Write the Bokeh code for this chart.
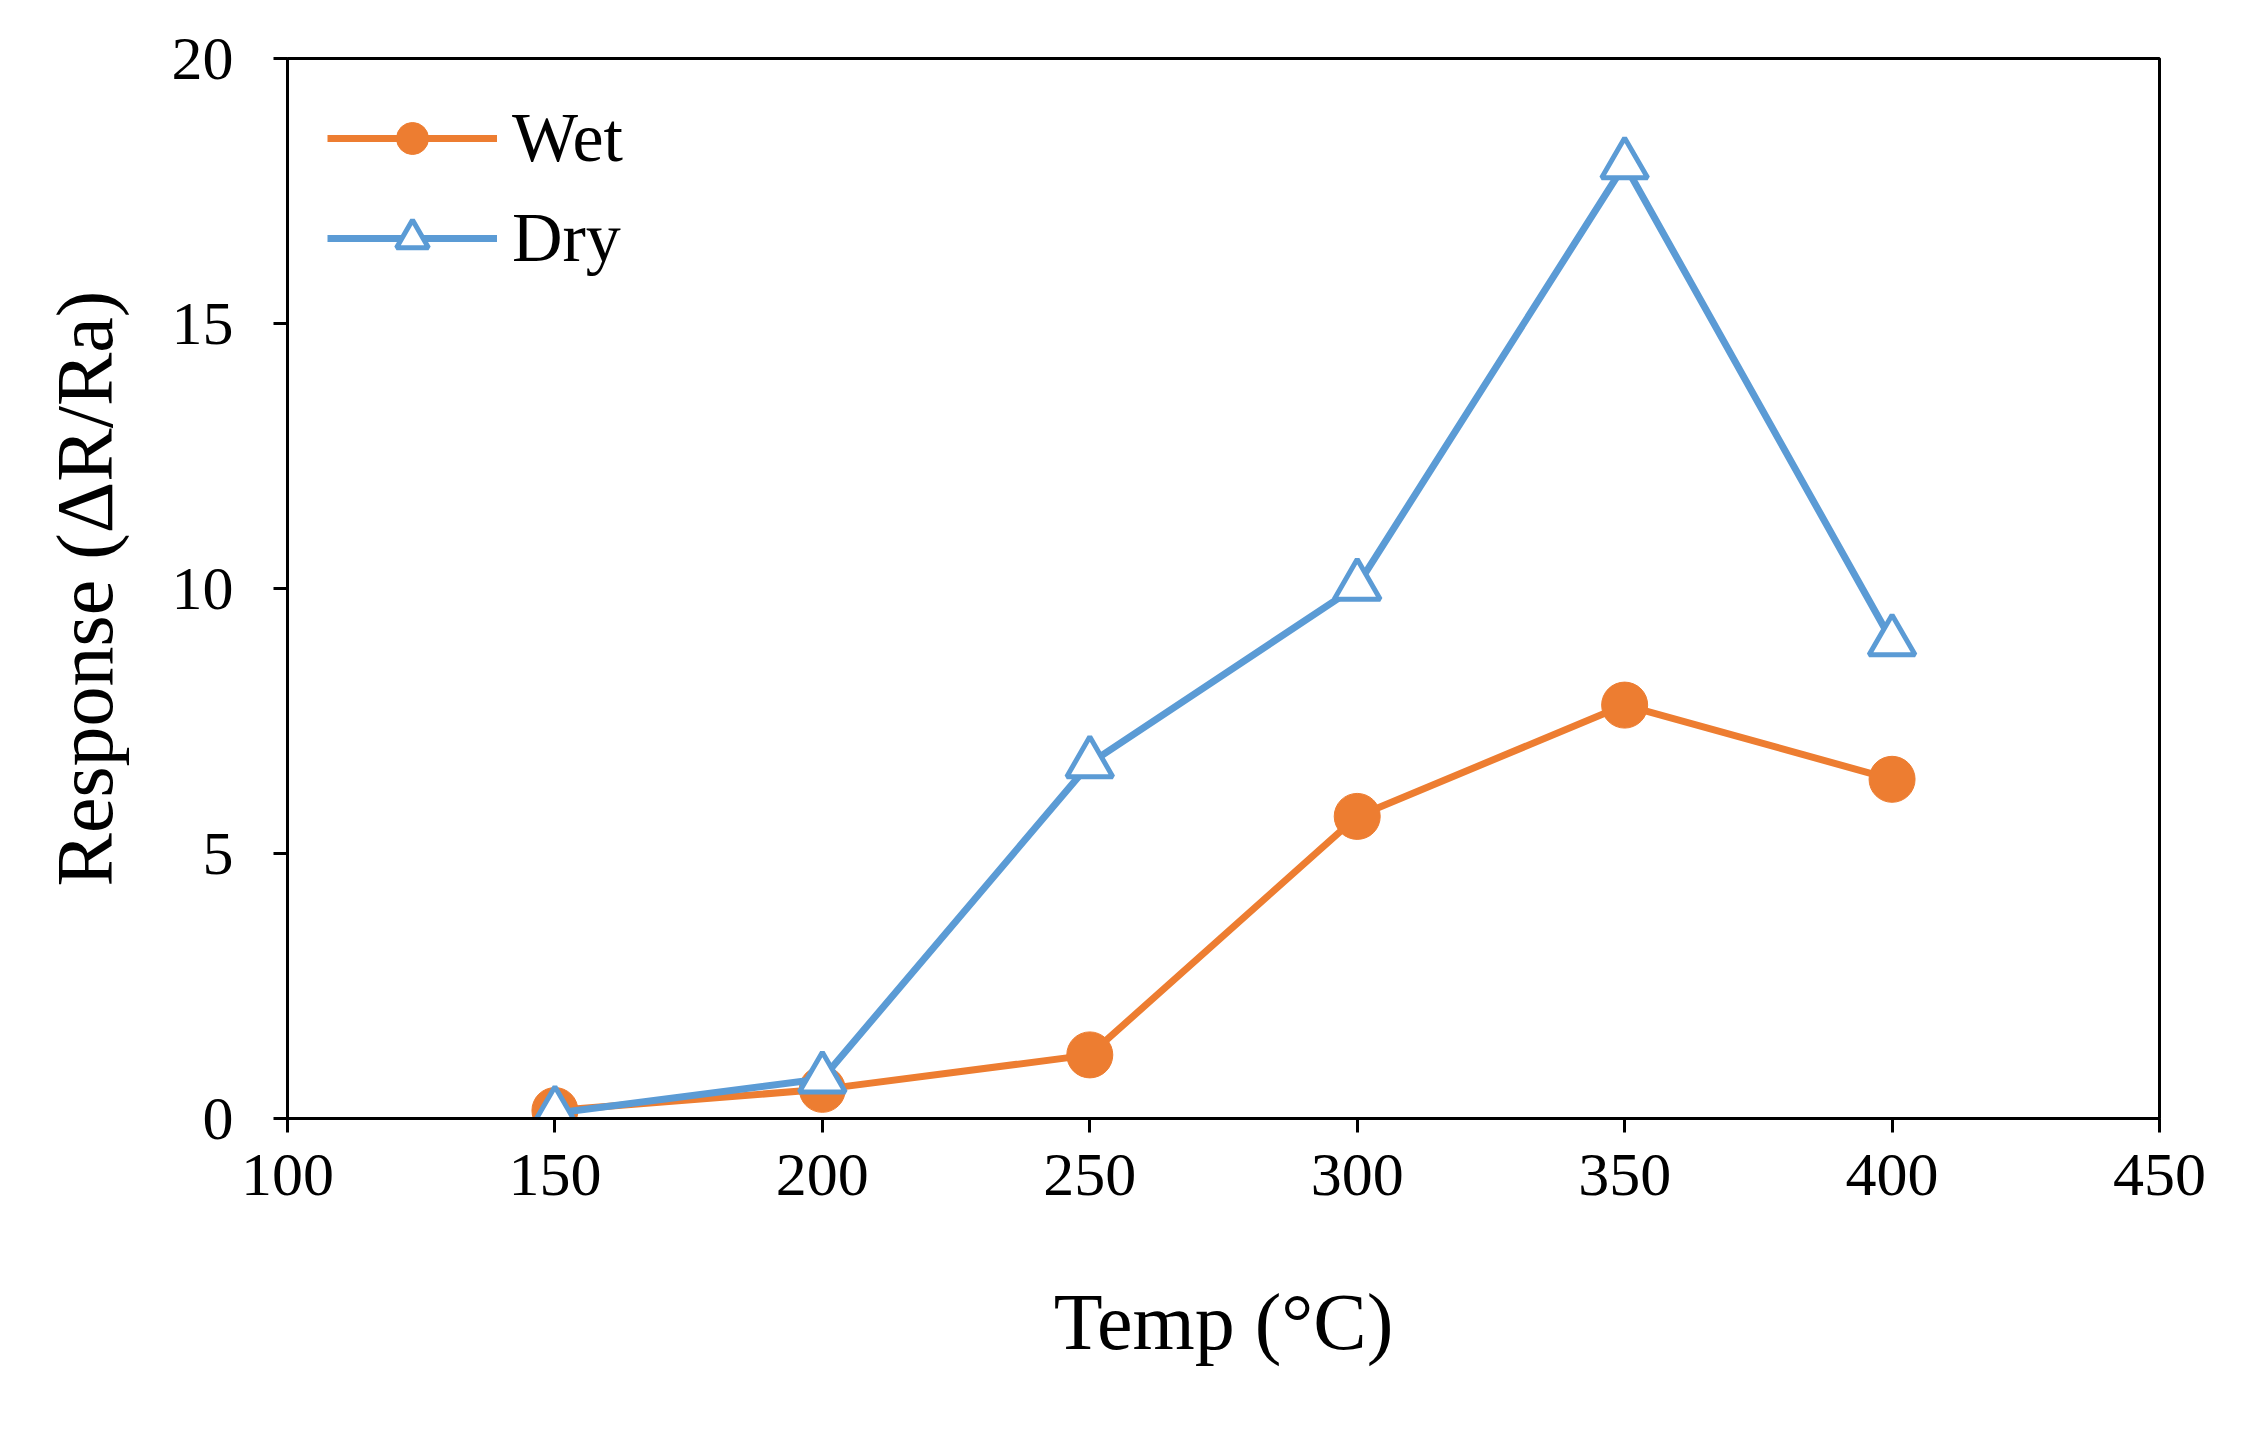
from bokeh.plotting import figure
from bokeh.models import Legend, LegendItem, FixedTicker
from bokeh.embed import file_html
from bokeh.resources import INLINE

temp = [150, 200, 250, 300, 350, 400]
wet = [0.15, 0.55, 1.2, 5.7, 7.8, 6.4]
dry = [0.1, 0.75, 6.7, 10.05, 18.0, 9.0]

orange = "#ED7D31"
blue = "#5B9BD5"
font = "Liberation Serif"

p = figure(width=2231, height=1413, x_range=(100, 450), y_range=(0, 20),
           output_backend="svg", toolbar_location=None,
           x_axis_label="Temp (°C)", y_axis_label="Response (ΔR/Ra)",
           min_border_left=287, min_border_right=72, min_border_top=58, min_border_bottom=295)
p.grid.visible = False
p.outline_line_color = "black"
p.outline_line_width = 3

for ax in (p.xaxis[0], p.yaxis[0]):
    ax.axis_line_width = 3
    ax.major_tick_line_width = 3
    ax.major_tick_out = 14
    ax.major_tick_in = 0
    ax.minor_tick_line_color = None
    ax.major_label_text_font = font
    ax.major_label_text_font_size = "62px"
    ax.major_label_text_color = "black"
    ax.axis_label_text_font = font
    ax.axis_label_text_font_size = "80px"
    ax.axis_label_text_font_style = "normal"
    ax.axis_label_text_color = "black"
p.xaxis.ticker = FixedTicker(ticks=[100, 150, 200, 250, 300, 350, 400, 450])
p.yaxis.ticker = FixedTicker(ticks=[0, 5, 10, 15, 20])
p.xaxis.major_label_standoff = 22
p.xaxis.axis_label_standoff = 80
p.yaxis.major_label_standoff = 40
p.yaxis.axis_label_standoff = 40

wl = p.line(temp, wet, line_color=orange, line_width=7)
wm = p.scatter(temp, wet, marker="circle", size=46, fill_color=orange, line_color=orange)
dl = p.line(temp, dry, line_color=blue, line_width=7)
dm = p.scatter(temp, dry, marker="triangle", size=46, fill_color="white", line_color=blue, line_width=5)

legend = Legend(items=[LegendItem(label="Wet", renderers=[wl, wm]),
                       LegendItem(label="Dry", renderers=[dl, dm])],
                location="top_left", border_line_color=None, background_fill_alpha=0,
                label_text_font=font, label_text_font_size="70px", label_text_color="black",
                glyph_width=170, glyph_height=80, spacing=20, padding=20, margin=40,
                label_standoff=15)
p.add_layout(legend)

open("out.html", "w").write(file_html(p, INLINE))
